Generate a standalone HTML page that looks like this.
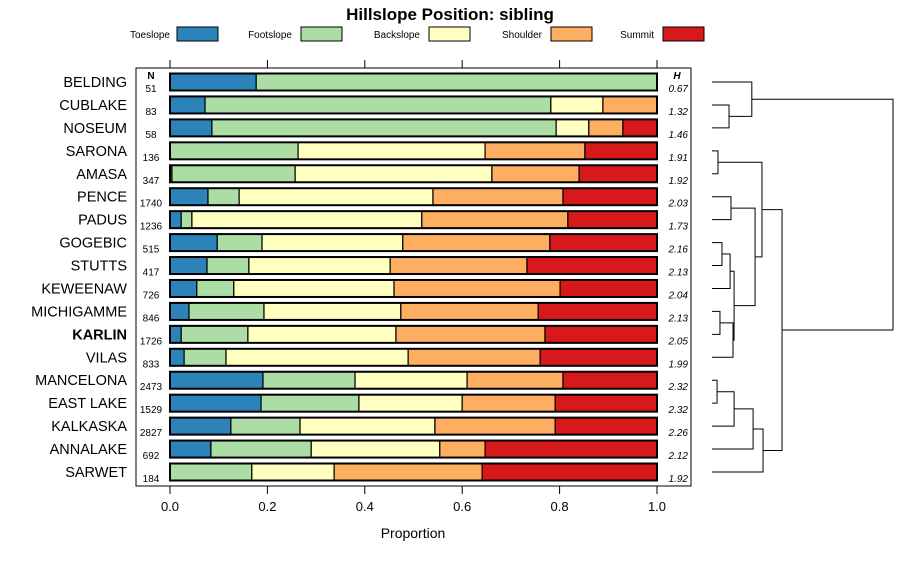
<!DOCTYPE html>
<html><head><meta charset="utf-8"><style>
body{margin:0;background:#fff;}
svg{font-family:"Liberation Sans",sans-serif;}
</style></head><body>
<svg id="chart" width="900" height="560" xmlns="http://www.w3.org/2000/svg"></svg>
<script>
const categories=["BELDING","CUBLAKE","NOSEUM","SARONA","AMASA","PENCE","PADUS","GOGEBIC","STUTTS","KEWEENAW","MICHIGAMME","KARLIN","VILAS","MANCELONA","EAST LAKE","KALKASKA","ANNALAKE","SARWET"];
const nValues=[51,83,58,136,347,1740,1236,515,417,726,846,1726,833,2473,1529,2827,692,184];
const hValues=["0.67","1.32","1.46","1.91","1.92","2.03","1.73","2.16","2.13","2.04","2.13","2.05","1.99","2.32","2.32","2.26","2.12","1.92"];
const seriesNames=["Toeslope","Footslope","Backslope","Shoulder","Summit"];
const seriesColors=["#2b83ba","#abdda4","#ffffbf","#fdae61","#d7191c"];
const toeslope=[0.177,0.072,0.086,0,0.004,0.078,0.023,0.097,0.076,0.055,0.039,0.023,0.029,0.191,0.187,0.125,0.084,0];
const footslope=[0.823,0.710,0.707,0.263,0.253,0.064,0.022,0.092,0.086,0.076,0.154,0.137,0.086,0.189,0.201,0.142,0.206,0.168];
const backslope=[0,0.107,0.067,0.384,0.404,0.398,0.472,0.289,0.290,0.329,0.281,0.304,0.374,0.230,0.212,0.277,0.264,0.169];
const shoulder=[0,0.111,0.070,0.205,0.179,0.267,0.300,0.302,0.281,0.341,0.282,0.306,0.271,0.197,0.191,0.247,0.093,0.304];
const summit=[0,0,0.070,0.148,0.160,0.193,0.183,0.220,0.267,0.199,0.244,0.230,0.240,0.193,0.209,0.209,0.353,0.359];
const xTicks=[0,0.2,0.4,0.6,0.8,1.0];
const xTickLabels=["0.0","0.2","0.4","0.6","0.8","1.0"];
// dendrogram merges: [left, right, height]; leaves are indices, nodes are "n#"
const merges=[[1,2,0.094],[0,"n0",0.22],[3,4,0.033],[5,6,0.105],[7,8,0.055],["n4",9,0.1],[10,11,0.044],["n6",12,0.116],["n5","n7",0.122],["n3","n8",0.238],["n2","n9",0.276],[13,14,0.028],["n11",15,0.122],["n12",16,0.227],["n13",17,0.282],["n10","n14",0.387],["n1","n15",1.0]];
const series=[toeslope,footslope,backslope,shoulder,summit];

const svg=document.getElementById('chart');
const NS="http://www.w3.org/2000/svg";
function mk(tag,attrs,parent){const e=document.createElementNS(NS,tag);for(const k in attrs)e.setAttribute(k,attrs[k]);(parent||svg).appendChild(e);return e;}
const x0=170,x1=657,yTop=82,rowStep=(472-82)/17,barH=17;
const xs=v=>x0+v*(x1-x0);
const ys=i=>yTop+i*rowStep;

let t=mk('text',{x:450,y:20,'text-anchor':'middle','font-size':17,'font-weight':'bold'});


t.textContent="Hillslope Position: sibling";
const legX=[[170,177],[292,301],[420,429],[542,551],[654,663]];
seriesNames.forEach((s,k)=>{
 const g=mk('g',{});
 
 
 const lt=mk('text',{x:legX[k][0],y:38,'text-anchor':'end','font-size':10,fill:'#000'},g);lt.textContent=s;
 mk('rect',{x:legX[k][1],y:27,width:41,height:14,fill:seriesColors[k],stroke:'#000','stroke-width':1},g);
});
const panel=mk('rect',{x:136,y:68,width:555,height:418,fill:'none',stroke:'#000','stroke-width':1});


xTicks.forEach((v,k)=>{
 mk('line',{x1:xs(v),x2:xs(v),y1:60,y2:68,stroke:'#000'});
 mk('line',{x1:xs(v),x2:xs(v),y1:486,y2:494,stroke:'#000'});
 const tl=mk('text',{x:xs(v),y:511,'text-anchor':'middle','font-size':13});
 
 
 tl.textContent=xTickLabels[k];
});
const xt=mk('text',{x:413,y:538,'text-anchor':'middle','font-size':14});


xt.textContent="Proportion";
let nh=mk('text',{x:151,y:79,'text-anchor':'middle','font-size':10,'font-weight':'bold'});nh.textContent="N";


let hh=mk('text',{x:677,y:79,'text-anchor':'middle','font-size':10,'font-weight':'bold','font-style':'italic'});hh.textContent="H";


categories.forEach((c,i)=>{
 const y=ys(i);
 const lab=mk('text',{x:127,y:y+5,'text-anchor':'end','font-size':14.5,'font-weight':c==="KARLIN"?'bold':'normal'});
 
 
 lab.textContent=c;
 const nt=mk('text',{x:151,y:y+10,'text-anchor':'middle','font-size':10});
 
 
 nt.textContent=nValues[i];
 const ht=mk('text',{x:688,y:y+10,'text-anchor':'end','font-size':10,'font-style':'italic'});
 
 
 ht.textContent=hValues[i];
 let cum=0;
 series.forEach((arr,k)=>{
  const v=arr[i];
  if(v>0){
   const r=mk('rect',{x:xs(cum),y:y-barH/2,width:xs(cum+v)-xs(cum),height:barH,fill:seriesColors[k],stroke:'#000','stroke-width':1.2});
   
   
  }
  cum+=v;
 });
 const ol=mk('rect',{x:xs(0),y:y-barH/2,width:xs(cum)-xs(0),height:barH,fill:'none',stroke:'#000','stroke-width':2});
 
 
});
// dendrogram
const dx0=712,dx1=893;
const dxs=h=>dx0+h*(dx1-dx0);
const nodes=[];
function pos(ref){if(typeof ref==='number')return {x:dx0,y:ys(ref)};return nodes[parseInt(ref.slice(1))];}
const dg=mk('g',{});


merges.forEach(m=>{
 const a=pos(m[0]),b=pos(m[1]),hx=dxs(m[2]);
 mk('path',{d:`M${a.x},${a.y}H${hx}V${b.y}H${b.x}`,fill:'none',stroke:'#000','stroke-width':1},dg);
 nodes.push({x:hx,y:(a.y+b.y)/2});
});
</script>
</body></html>
